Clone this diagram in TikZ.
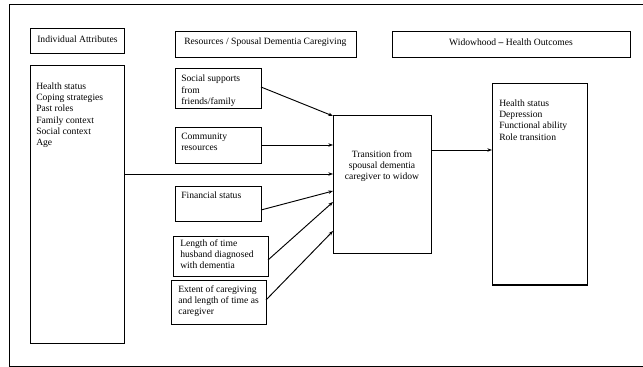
\documentclass[tikz,border=0pt]{standalone}
\usepackage{fontspec}
\setmainfont{Liberation Serif}
\usetikzlibrary{fit,arrows.meta}
\begin{document}
\begin{tikzpicture}[x=0.75pt,y=-0.75pt,
  box/.style={draw, line width=0.75pt, inner sep=0pt},
  txt/.style={inner sep=0pt, align=left, font=\fontsize{7.2}{8.4}\selectfont},
  ctxt/.style={inner sep=0pt, align=center, font=\fontsize{7.2}{8.4}\selectfont},
  arr/.style={line width=0.7pt, -{Stealth[length=3.5pt,width=2.6pt]}}]
\useasboundingbox (0,0) rectangle (643,367);
% outer frame (open on the right)
\draw[line width=0.75pt] (643,5) -- (9,5) -- (9,366) -- (643,366);
% header boxes
\node[box, fit={(30,29) (124,54)}] (ia) {};
\node[box, fit={(175,32) (356,58)}] (rs) {};
\node[box, fit={(392,32) (630,58)}] (wh) {};
\node[txt, anchor=west] (iat) at (37,39) {Individual Attributes};
\node[txt, anchor=west] (rst) at (184,42.5) {Resources / Spousal Dementia Caregiving};
\node[ctxt] (wht) at (511,42) {Widowhood \textbf{–} Health Outcomes};
% individual attributes
\node[box, fit={(30,66) (124,343)}] (ind) {};
\node[txt, anchor=north west] (indt) at (36,82.5) {Health status\\Coping strategies\\Past roles\\Family context\\Social context\\Age};
% resources
\node[box, fit={(175,69) (261,109)}] (ss) {};
\node[txt, anchor=north west] (sst) at (181,75) {Social supports\\from\\friends/family};
\node[box, fit={(175,128) (261,164)}] (cr) {};
\node[txt, anchor=north west] (crt) at (181,132.5) {Community\\resources};
\node[box, fit={(175,187) (261,222)}] (fs) {};
\node[txt, anchor=north west] (fst) at (181,191.5) {Financial status};
\node[box, fit={(173,237) (268,277)}] (lt) {};
\node[txt, anchor=north west] (ltt) at (180,239.5) {Length of time\\husband diagnosed\\with dementia};
\node[box, fit={(171,281) (266,324)}] (ex) {};
\node[txt, anchor=north west] (ext) at (178,285.5) {Extent of caregiving\\and length of time as\\caregiver};
% transition
\node[box, fit={(333,116) (431,254)}] (tr) {};
\node[ctxt, anchor=north] (trt) at (382,150.5) {Transition from\\spousal dementia\\caregiver to widow};
% outcomes
\node[box, fit={(492,84) (587,285)}] (ho) {};
\node[txt, anchor=north west] (hot) at (499,99.5) {Health status\\Depression\\Functional ability\\Role transition};
% connectors
\coordinate (a1) at (333,116);
\coordinate (a2) at (333,145);
\coordinate (a3) at (333,174);
\coordinate (a4) at (333,191);
\coordinate (a5) at (333,202);
\coordinate (a6) at (333,231);
\coordinate (b1) at (261,87);
\coordinate (b2) at (261,145);
\coordinate (b3) at (124,174);
\coordinate (b4) at (261,210);
\coordinate (b5) at (268,260);
\coordinate (b6) at (266,300);
\draw[arr] (b1) -- (a1);
\draw[arr] (b2) -- (a2);
\draw[arr] (b3) -- (a3);
\draw[arr] (b4) -- (a4);
\draw[arr] (b5) -- (a5);
\draw[arr] (b6) -- (a6);
\coordinate (c1) at (431,150);
\coordinate (c2) at (492,150);
\draw[arr] (c1) -- (c2);
\end{tikzpicture}
\end{document}
